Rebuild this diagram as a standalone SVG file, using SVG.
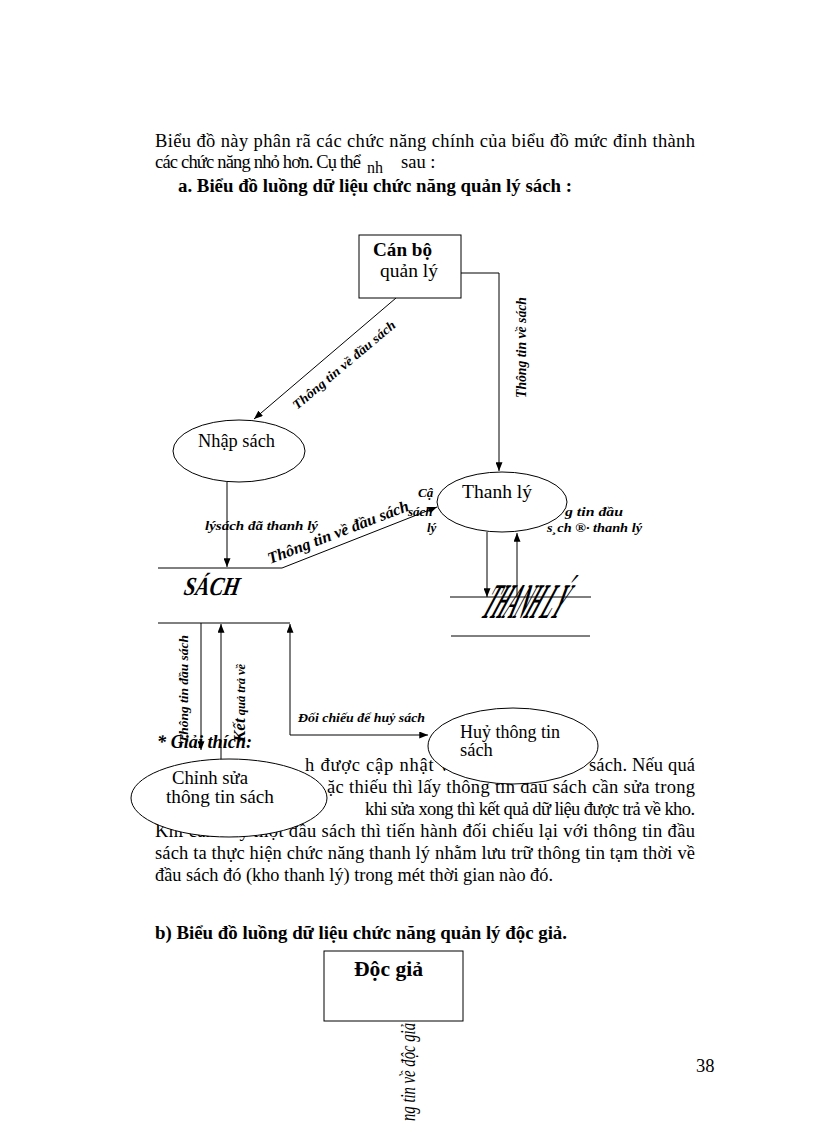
<svg xmlns="http://www.w3.org/2000/svg" width="816" height="1123" viewBox="0 0 816 1123">
<defs>
<style>
.t{font-family:"Liberation Serif","Times New Roman",serif;font-size:18.5px;fill:#000}
.n{font-family:"Liberation Serif","Times New Roman",serif;font-size:18.5px;fill:#000}
.b{font-weight:bold}
.bi{font-weight:bold;font-style:italic}
.l{font-family:"Liberation Serif","Times New Roman",serif;font-size:13px;font-weight:bold;font-style:italic;fill:#000}
.ln{stroke:#000;stroke-width:1;fill:none}
.nd{fill:#fff;stroke:#000;stroke-width:1}
</style>
<marker id="ah" viewBox="0 0 10 8" refX="10" refY="4" markerWidth="9" markerHeight="7" markerUnits="userSpaceOnUse" orient="auto-start-reverse">
<path d="M0,0 L10,4 L0,8 z" fill="#000"/>
</marker>
</defs>
<rect width="816" height="1123" fill="#fff"/>

<g id="text-body">
<text class="t" x="155" y="147" textLength="540" lengthAdjust="spacing">Biểu  đồ này phân rã các chức năng chính của biểu đồ mức đỉnh thành</text>
<text class="t" x="155" y="168" textLength="206" lengthAdjust="spacing">các chức năng nhỏ hơn. Cụ thể</text>
<text class="t" style="font-size:16px" x="367" y="173">nh</text>
<text class="t" x="401" y="168">sau :</text>
<text class="t b" x="178" y="192" textLength="394" lengthAdjust="spacingAndGlyphs">a. Biểu đồ luồng dữ liệu chức năng quản lý sách :</text>

<text class="t bi" style="font-size:19px" x="157" y="748" textLength="95" lengthAdjust="spacingAndGlyphs">* Giải thích:</text>
<text class="t" x="305" y="771" textLength="144" lengthAdjust="spacing">h được cập nhật v</text>
<text class="t" x="589" y="771" textLength="106" lengthAdjust="spacing">sách. Nếu quá</text>
<text class="t" x="327" y="793" textLength="368" lengthAdjust="spacing">ặc thiếu thì lấy thông tin đầu sách cần sửa trong</text>
<text class="t" x="365" y="815" textLength="330" lengthAdjust="spacing">khi sửa xong thì kết quả dữ liệu được trả về kho.</text>
<text class="t" x="155" y="837" textLength="540" lengthAdjust="spacing">Khi cần huỷ một đầu sách thì tiến hành đối chiếu lại với thông tin đầu</text>
<text class="t" x="155" y="859" textLength="540" lengthAdjust="spacing">sách ta thực hiện chức năng thanh lý nhằm lưu trữ thông tin tạm thời về</text>
<text class="t" x="155" y="881" textLength="398" lengthAdjust="spacingAndGlyphs">đầu sách đó (kho thanh lý)  trong mét thời gian nào đó.</text>

<text class="t b" x="155" y="939" textLength="412" lengthAdjust="spacingAndGlyphs">b) Biểu đồ luồng dữ liệu chức năng quản lý độc giả.</text>
<text class="t" x="696" y="1072">38</text>
</g>

<g id="connectors">
<path class="ln" d="M461,273 H499 V471" marker-end="url(#ah)"/>
<path class="ln" d="M396,298 L254,419" marker-end="url(#ah)"/>
<path class="ln" d="M227,482 V567" marker-end="url(#ah)"/>
<path class="ln" d="M282,568 L437,507" marker-end="url(#ah)"/>
<path class="ln" d="M487,532 V597" marker-end="url(#ah)"/>
<path class="ln" d="M517,597 V533" marker-end="url(#ah)"/>
<path class="ln" d="M201,623 V750" marker-end="url(#ah)"/>
<path class="ln" d="M221,762 V624" marker-end="url(#ah)"/>
<path class="ln" d="M290,624 V735 H428" marker-start="url(#ah)" marker-end="url(#ah)"/>
</g>

<g id="labels">
<text class="l" style="font-size:14px" transform="translate(526,398) rotate(-90)" textLength="101" lengthAdjust="spacingAndGlyphs">Thông tin về sách</text>
<text class="l" transform="translate(297,410) rotate(-40)" textLength="130" lengthAdjust="spacingAndGlyphs">Thông tin về đầu sách</text>
<text class="l" x="205" y="530" textLength="113" lengthAdjust="spacingAndGlyphs">lýsách đã thanh lý</text>
<text class="l" style="font-size:16px" transform="translate(270,564) rotate(-21)" textLength="150" lengthAdjust="spacingAndGlyphs">Thông tin về đầu sách</text>
<text class="l" style="font-size:13px" x="418" y="497">Cậ</text>
<text class="l" style="font-size:13px" x="408" y="516">sách</text>
<text class="l" style="font-size:13px" x="427" y="532">lý</text>
<text class="l" style="font-size:13px" x="565" y="516" textLength="58" lengthAdjust="spacingAndGlyphs">g tin đầu</text>
<text class="l" style="font-size:13px" x="547" y="532" textLength="95" lengthAdjust="spacingAndGlyphs">s¸ch ®· thanh lý</text>
<text class="l" style="font-size:12.5px" transform="translate(188,743) rotate(-90)" textLength="108" lengthAdjust="spacingAndGlyphs">Thông tin đầu sách</text>
<text class="l" style="font-size:12.5px" transform="translate(245,742) rotate(-90)"><tspan style="font-size:17px">Kết</tspan>  quả trả về</text>
<text class="l" x="298" y="722" textLength="127" lengthAdjust="spacingAndGlyphs">Đối chiếu để huỷ sách</text>
<text class="l" style="font-size:22px;font-weight:normal" transform="translate(415,1121) rotate(-90)" textLength="98" lengthAdjust="spacingAndGlyphs">ng tin về độc giả</text>
</g>

<g id="can-bo">
<rect class="nd" x="359" y="235" width="102" height="63"/>
<text class="n b" style="font-size:19px" x="373" y="256" textLength="59" lengthAdjust="spacingAndGlyphs">Cán bộ</text>
<text class="n" x="380" y="277" textLength="58" lengthAdjust="spacingAndGlyphs">quản lý</text>
</g>

<g id="nhap-sach">
<ellipse class="nd" cx="239" cy="451" rx="66" ry="31"/>
<text class="n" x="198" y="447" textLength="77" lengthAdjust="spacingAndGlyphs">Nhập sách</text>
</g>

<g id="thanh-ly">
<ellipse class="nd" cx="502" cy="502" rx="65" ry="30"/>
<text class="n" style="font-size:19.5px" x="462" y="498" textLength="70" lengthAdjust="spacingAndGlyphs">Thanh lý</text>
</g>

<g id="store-sach">
<path class="ln" d="M158,568 H282 M158,623 H290"/>
<text class="t bi" style="font-size:26px" transform="translate(183,595) skewX(-10) scale(0.8,1)">SÁCH</text>
</g>

<g id="store-thanh-ly">
<path class="ln" d="M450,597 H591 M451,636 H590"/>
<text class="t b" style="font-size:50px" transform="translate(479,618) skewX(-28) scale(0.3,1)">THANH LÝ</text>
</g>

<g id="huy">
<ellipse class="nd" cx="513" cy="746" rx="85" ry="38"/>
<text class="n" x="460" y="738" textLength="100" lengthAdjust="spacingAndGlyphs">Huỷ thông tin</text>
<text class="n" x="460" y="756">sách</text>
</g>

<g id="chinh-sua">
<ellipse class="nd" cx="229" cy="798" rx="98" ry="39"/>
<text class="n" x="172" y="784" textLength="76" lengthAdjust="spacingAndGlyphs">Chỉnh sửa</text>
<text class="n" x="166" y="803" textLength="108" lengthAdjust="spacingAndGlyphs">thông tin sách</text>
</g>

<g id="doc-gia">
<rect class="nd" x="324" y="951" width="139" height="70"/>
<text class="n b" style="font-size:20px" x="354" y="976" textLength="69" lengthAdjust="spacingAndGlyphs">Độc giả</text>
</g>
</svg>
